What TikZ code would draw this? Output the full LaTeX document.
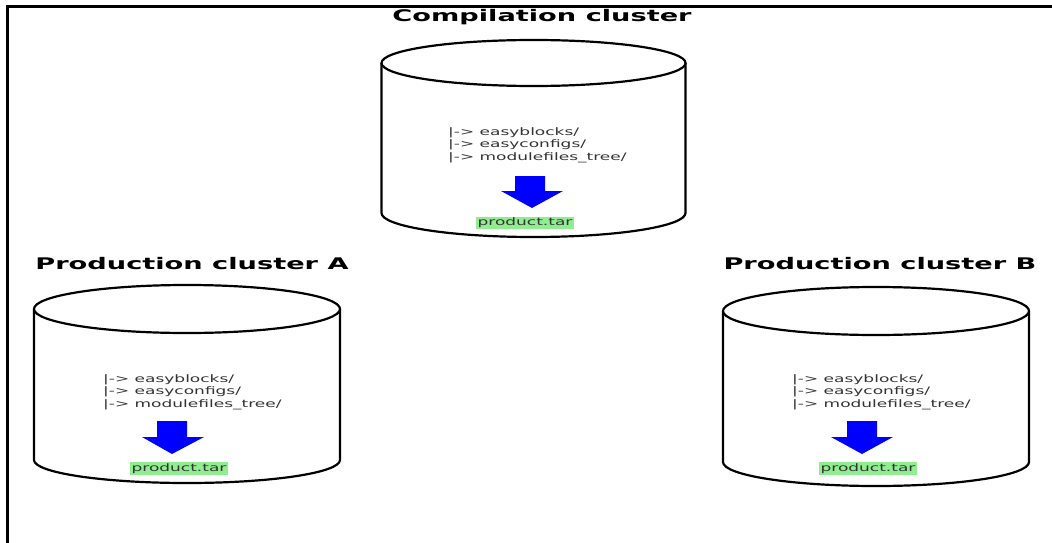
\documentclass[tikz,border=0pt]{standalone}
\usepackage{fontspec}
\setmainfont{DejaVu Sans}
\newfontfamily\wideb[FakeStretch=1.7]{DejaVu Sans Bold}
\newfontfamily\widen[FakeStretch=1.65]{DejaVu Sans}
\definecolor{txtgray}{HTML}{333333}
\definecolor{hlgreen}{HTML}{90EE90}
\tikzset{
  title/.style={font=\wideb\fontsize{16}{19}\selectfont, inner sep=0pt},
  listing/.style={font=\widen\fontsize{10.3}{12.6}\selectfont, text=txtgray, align=left, anchor=west, inner sep=0pt},
  prod/.style={font=\widen\fontsize{10.3}{12}\selectfont, text=txtgray, fill=hlgreen, inner xsep=1.5pt, inner ysep=1.5pt},
  cyl/.style={draw=black, line width=2.2pt, fill=white},
  bluearrow/.style={fill=blue, draw=none},
  frame/.style={line width=3pt, black}
}
\begin{document}
\begin{tikzpicture}[x=1pt,y=-1pt]
\useasboundingbox (0,0) rectangle (1052,543);
% frame
\draw[frame] (7,543) -- (7,6.5) -- (1052,6.5);

% ---------- Compilation cluster ----------
\node[title] (tC) at (542,17) {Compilation cluster};
\draw[cyl] (381.5,63) -- (381.5,213) arc[start angle=180,end angle=0,x radius=152,y radius=24] -- (685.5,63);
\draw[cyl] (533.5,63) ellipse[x radius=152,y radius=23];
\node[listing] (lC) at (448,145) {|-> easyblocks/\\|-> easyconfigs/\\|-> modulefiles\_tree/};
\fill[bluearrow] (515,176) -- (545,176) -- (545,191) -- (563,191) -- (532,208) -- (501,191) -- (515,191) -- cycle;
\node[prod] (pC) at (525,223) {product.tar};

% ---------- Production cluster A ----------
\node[title] (tA) at (192,264) {Production cluster A};
\draw[cyl] (34,309) -- (34,460) arc[start angle=180,end angle=0,x radius=153,y radius=23] -- (340,309);
\draw[cyl] (187,309) ellipse[x radius=153,y radius=24];
\node[listing] (lA) at (103,392) {|-> easyblocks/\\|-> easyconfigs/\\|-> modulefiles\_tree/};
\fill[bluearrow] (157,421) -- (187,421) -- (187,437) -- (204,437) -- (172,454) -- (142,437) -- (157,437) -- cycle;
\node[prod] (pA) at (179,468.5) {product.tar};

% ---------- Production cluster B ----------
\node[title] (tB) at (880,264) {Production cluster B};
\draw[cyl] (723,311) -- (723,462) arc[start angle=180,end angle=0,x radius=153,y radius=24] -- (1029,311);
\draw[cyl] (876,311) ellipse[x radius=153,y radius=24];
\node[listing] (lB) at (792,392) {|-> easyblocks/\\|-> easyconfigs/\\|-> modulefiles\_tree/};
\fill[bluearrow] (847,421) -- (877,421) -- (877,437) -- (893,437) -- (862,454) -- (831,437) -- (847,437) -- cycle;
\node[prod] (pB) at (868,468.5) {product.tar};
\end{tikzpicture}
\end{document}
